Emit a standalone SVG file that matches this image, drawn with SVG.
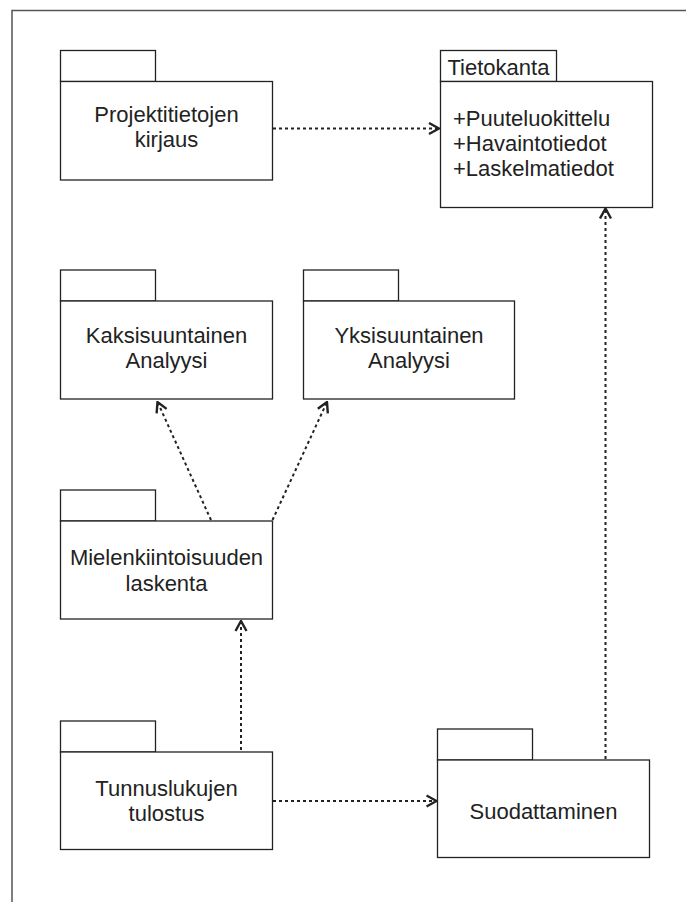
<svg xmlns="http://www.w3.org/2000/svg" width="686" height="902" viewBox="0 0 686 902">
  <defs>
    <style>
      .frame { fill: none; stroke: #555; stroke-width: 1.5; }
      .pkg rect { fill: #fff; stroke: #222; stroke-width: 1.3; }
      .lbl { font-family: "Liberation Sans", Arial, sans-serif; font-size: 22px; fill: #222; text-anchor: middle; }
      .attr { font-family: "Liberation Sans", Arial, sans-serif; font-size: 22px; fill: #222; }
      .dep { fill: none; stroke: #222; stroke-width: 2; stroke-dasharray: 3 3; }
      .head { fill: none; stroke: #222; stroke-width: 2.4; stroke-linejoin: miter; }
    </style>
    <marker id="open" viewBox="0 0 12 14" refX="11" refY="7" markerWidth="12" markerHeight="14" markerUnits="userSpaceOnUse" orient="auto">
      <path class="head" d="M1,1.5 L11,7 L1,12.5"/>
    </marker>
  </defs>

  <rect x="0" y="0" width="686" height="902" fill="#fff"/>

  <!-- diagram frame (continues past the lower right) -->
  <path class="frame" d="M12,910 V10.5 H700"/>

  <!-- dependency connectors -->
  <g id="connectors">
    <line class="dep" x1="273" y1="128.5" x2="439" y2="128.5" marker-end="url(#open)"/>
    <line class="dep" x1="211" y1="520" x2="157.5" y2="402" marker-end="url(#open)"/>
    <line class="dep" x1="272.5" y1="520" x2="327" y2="402" marker-end="url(#open)"/>
    <line class="dep" x1="241" y1="750" x2="241" y2="621" marker-end="url(#open)"/>
    <line class="dep" x1="273" y1="801" x2="436.5" y2="801" marker-end="url(#open)"/>
    <line class="dep" x1="605.5" y1="759" x2="605.5" y2="208.5" marker-end="url(#open)"/>
  </g>

  <g id="projektitietojen" class="pkg">
    <rect x="60.5" y="50.5" width="95" height="31"/>
    <rect x="60.5" y="81.5" width="212" height="98.5"/>
    <text class="lbl" x="166.5" y="122">Projektitietojen</text>
    <text class="lbl" x="166.5" y="147">kirjaus</text>
  </g>

  <g id="tietokanta" class="pkg">
    <rect x="440.5" y="50.5" width="116" height="31"/>
    <rect x="440.5" y="81.5" width="212" height="126"/>
    <text class="attr" x="447.5" y="75">Tietokanta</text>
    <text class="attr" x="453" y="126">+Puuteluokittelu</text>
    <text class="attr" x="453" y="150.5">+Havaintotiedot</text>
    <text class="attr" x="453" y="175.5">+Laskelmatiedot</text>
  </g>

  <g id="kaksisuuntainen" class="pkg">
    <rect x="60.5" y="270" width="95" height="31"/>
    <rect x="60.5" y="301" width="212" height="98"/>
    <text class="lbl" x="166.5" y="342.5">Kaksisuuntainen</text>
    <text class="lbl" x="166.5" y="368">Analyysi</text>
  </g>

  <g id="yksisuuntainen" class="pkg">
    <rect x="303.5" y="270" width="95" height="31"/>
    <rect x="303.5" y="301" width="211" height="98"/>
    <text class="lbl" x="409" y="342.5">Yksisuuntainen</text>
    <text class="lbl" x="409" y="368">Analyysi</text>
  </g>

  <g id="mielenkiintoisuuden" class="pkg">
    <rect x="60.5" y="490" width="95" height="31"/>
    <rect x="60.5" y="521" width="212" height="98"/>
    <text class="lbl" x="166.5" y="565">Mielenkiintoisuuden</text>
    <text class="lbl" x="166.5" y="591">laskenta</text>
  </g>

  <g id="tunnuslukujen" class="pkg">
    <rect x="60.5" y="721" width="95" height="31"/>
    <rect x="60.5" y="752" width="212" height="97.5"/>
    <text class="lbl" x="166.5" y="796">Tunnuslukujen</text>
    <text class="lbl" x="166.5" y="821">tulostus</text>
  </g>

  <g id="suodattaminen" class="pkg">
    <rect x="437.5" y="729" width="95" height="31"/>
    <rect x="437.5" y="760" width="212" height="97.5"/>
    <text class="lbl" x="543.5" y="818.5">Suodattaminen</text>
  </g>
</svg>
